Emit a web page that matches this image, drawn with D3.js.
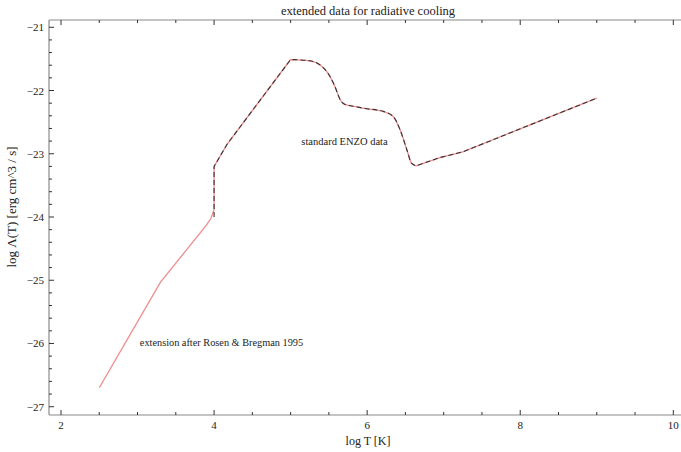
<!DOCTYPE html>
<html><head><meta charset="utf-8">
<script src="https://cdn.jsdelivr.net/npm/d3@7"></script>
<style>
html,body{margin:0;padding:0;background:#fff;}
svg text{font-family:"Liberation Serif","DejaVu Serif",serif;fill:#222;}
</style></head>
<body><svg id="c" width="681" height="452"></svg>
<script>
// Data (log T [K], log Lambda [erg cm^3/s])
const extLogT = [2.5, 3.3, 3.9, 3.96, 4.0, 4.0];
const extLogL = [-26.7, -25.03, -24.13, -24.02, -23.88, -23.2];
const enzoLogT = [4.0, 4.0, 4.17, 5.0, 5.25, 5.39, 5.49, 5.58, 5.65, 5.71, 5.87, 5.95, 6.21, 6.34, 6.43, 6.52, 6.58, 6.64, 6.95, 7.25, 9.0];
const enzoLogL = [-24.0, -23.2, -22.85, -21.51, -21.53, -21.60, -21.73, -21.94, -22.15, -22.22, -22.26, -22.28, -22.33, -22.41, -22.62, -22.94, -23.15, -23.19, -23.06, -22.97, -22.12];
const xTicks = [2, 4, 6, 8, 10];
const yTicks = [-27, -26, -25, -24, -23, -22, -21];
const titleText = "extended data for radiative cooling";
const xLabel = "log T [K]";
const yLabel = "log \u039B(T) [erg cm^3 / s]";
const noteEnzo = "standard ENZO data";
const noteExt = "extension after Rosen & Bregman 1995";

const svg = d3.select("#c");
const L = 49, R = 681, T = 20, B = 415;
const x = d3.scaleLinear().domain([1.8432, 10.1006]).range([L, R]);
const y = d3.scaleLinear().domain([-20.885, -27.131]).range([T, B]);

const xMinor = d3.range(2, 10.01, 0.5);
const yMinor = d3.range(-27, -20.9, 0.2);

const axisColor = "#8a8a8a";
const g = svg.append("g");

g.append("line").attr("x1", L).attr("x2", L).attr("y1", T).attr("y2", B).attr("stroke", axisColor).attr("stroke-width", 1.2);
g.append("line").attr("x1", L).attr("x2", R).attr("y1", B).attr("y2", B).attr("stroke", axisColor).attr("stroke-width", 1.2);
g.append("line").attr("x1", L).attr("x2", R).attr("y1", T).attr("y2", T).attr("stroke", axisColor).attr("stroke-width", 1.2);

xMinor.forEach(v => {
  const major = xTicks.includes(Math.round(v * 100) / 100);
  const len = major ? 5 : 3;
  g.append("line").attr("x1", x(v)).attr("x2", x(v)).attr("y1", B).attr("y2", B - len).attr("stroke", "#333").attr("stroke-width", 1);
  g.append("line").attr("x1", x(v)).attr("x2", x(v)).attr("y1", T).attr("y2", T + len).attr("stroke", "#333").attr("stroke-width", 1);
});
yMinor.forEach(v => {
  const r = Math.round(v * 10) / 10;
  const major = yTicks.includes(r);
  const len = major ? 5 : 3;
  g.append("line").attr("x1", L).attr("x2", L + len).attr("y1", y(r)).attr("y2", y(r)).attr("stroke", "#333").attr("stroke-width", 1);
});

const fmt = d3.format("d");
xTicks.forEach(v => {
  g.append("text").attr("x", x(v)).attr("y", B + 14).attr("text-anchor", "middle").attr("font-size", 11).text(fmt(v));
});
yTicks.forEach(v => {
  g.append("text").attr("x", L - 5).attr("y", y(v) + 4).attr("text-anchor", "end").attr("font-size", 11).text(fmt(v));
});

// lines: straight segments up to the peak, smooth monotone curve from peak to minimum, straight after
const lin = d3.line().x(d => x(d[0])).y(d => y(d[1]));
const smooth = d3.line().x(d => x(d[0])).y(d => y(d[1])).curve(d3.curveMonotoneX);
const enzoPts = enzoLogT.map((t, i) => [t, enzoLogL[i]]);
const extPts = extLogT.map((t, i) => [t, extLogL[i]]);
const iPeak = 3, iMin = 17;
const toL = s => s.replace(/^M/, "L");
const tailD = toL(lin(enzoPts.slice(1, iPeak + 1))) + toL(smooth(enzoPts.slice(iPeak, iMin + 1))) + toL(lin(enzoPts.slice(iMin)));
const redD = lin(extPts) + tailD;
const enzoD = lin(enzoPts.slice(0, 2)) + tailD;
svg.append("path").attr("d", redD).attr("fill", "none").attr("stroke", "#f28b8b").attr("stroke-width", 1.3);
svg.append("path").attr("d", enzoD).attr("fill", "none").attr("stroke", "#333").attr("stroke-width", 1.1).attr("stroke-dasharray", "5,3");

svg.append("text").attr("x", x(5.14)).attr("y", y(-22.82) + 3).attr("font-size", 10.5).text(noteEnzo);
svg.append("text").attr("x", x(3.03)).attr("y", y(-26.0) + 3).attr("font-size", 10.3).text(noteExt);

svg.append("text").attr("x", 368).attr("y", 15).attr("text-anchor", "middle").attr("font-size", 12.5).text(titleText);
svg.append("text").attr("x", 368).attr("y", 445).attr("text-anchor", "middle").attr("font-size", 12).text(xLabel);
svg.append("text").attr("transform", "translate(16," + 207 + ") rotate(-90)").attr("text-anchor", "middle").attr("font-size", 13).text(yLabel);
</script>
</body></html>
